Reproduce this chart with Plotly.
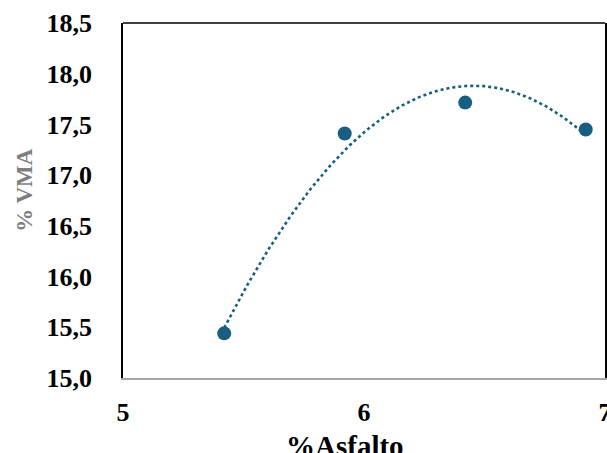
import numpy as np
import plotly.graph_objects as go

asfalto = [5.42, 5.92, 6.42, 6.92]
vma = [15.44, 17.41, 17.715, 17.45]
x_ticks = [5, 6, 7]
y_ticks = [15.0, 15.5, 16.0, 16.5, 17.0, 17.5, 18.0, 18.5]
y_tick_labels = ["15,0", "15,5", "16,0", "16,5", "17,0", "17,5", "18,0", "18,5"]

color = "#175E82"
font = "Liberation Serif"

# Excel-style polynomial (order 2) trendline
coef = np.polyfit(asfalto, vma, 2)
xt = np.linspace(min(asfalto), max(asfalto), 200)
yt = np.polyval(coef, xt)

fig = go.Figure()
fig.add_trace(go.Scatter(x=xt, y=yt, mode="lines",
                         line=dict(color=color, width=2.6, dash="dot"),
                         hoverinfo="skip", showlegend=False))
fig.add_trace(go.Scatter(x=asfalto, y=vma, mode="markers",
                         marker=dict(color=color, size=14),
                         showlegend=False))

fig.update_layout(
    width=607, height=453,
    margin=dict(l=123, r=2, t=23, b=75),
    paper_bgcolor="white", plot_bgcolor="white",
    font=dict(family=font, size=26, color="black"),
    xaxis=dict(range=[5, 7], tickvals=x_ticks, ticktext=[str(v) for v in x_ticks],
               automargin=False,
               showgrid=False, zeroline=False, showline=True,
               linecolor="#A6A6A6", linewidth=2,
               ticks="outside", ticklen=0, ticklabelstandoff=10,
               ticklabeloverflow="allow",
               tickfont=dict(family=font, size=26, color="black", weight="bold")),
    yaxis=dict(range=[15.0, 18.5], tickvals=y_ticks, ticktext=y_tick_labels,
               automargin=False,
               showgrid=False, zeroline=False, showline=True, mirror=True,
               linecolor="black", linewidth=1.5,
               ticks="outside", ticklen=0, ticklabelstandoff=24,
               tickfont=dict(family=font, size=26, color="black", weight="bold")),
    shapes=[dict(type="line", xref="paper", yref="paper", x0=0, x1=1, y0=1, y1=1,
                 line=dict(color="black", width=1.5))],
    annotations=[
        dict(text="% VMA", xref="paper", yref="paper", x=-98/482, y=0.53,
             xanchor="center", yanchor="middle", textangle=-90, showarrow=False,
             font=dict(family=font, size=23, color="#7F7F7F", weight="bold")),
        dict(text="%Asfalto", xref="paper", yref="paper", x=0.461, y=-0.142,
             xanchor="center", yanchor="top", showarrow=False,
             font=dict(family=font, size=29, color="black", weight="bold")),
    ],
)

fig.write_html("out.html")
